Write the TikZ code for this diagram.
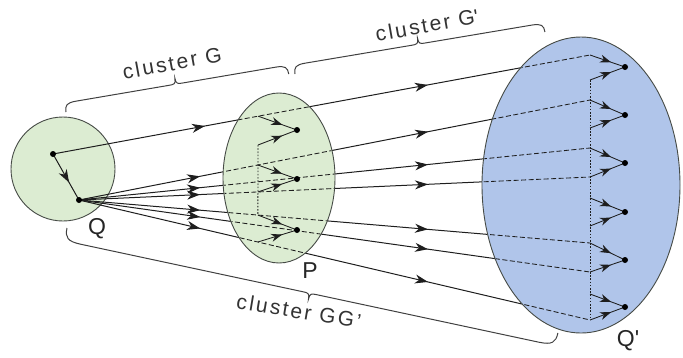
\documentclass[tikz,border=0pt]{standalone}
\usepackage{fontspec}
\setmainfont{Liberation Sans}
\newfontfamily\clfont[LetterSpace=11]{Liberation Sans}
\usetikzlibrary{arrows.meta,decorations.markings,shapes.geometric,calc}

\definecolor{qgreen}{RGB}{220,236,210}
\definecolor{qblue}{RGB}{176,197,234}
\definecolor{edgec}{RGB}{70,75,70}
\definecolor{linec}{RGB}{30,30,30}

\tikzset{
  bigtip/.tip={Stealth[length=13pt,width=9pt,inset=4pt]},
  smalltip/.tip={Stealth[length=11pt,width=8pt,inset=3.5pt]},
  conn/.style={draw=linec,line width=1pt},
  shortc/.style={draw=linec,line width=0.85pt},
  inner/.style={draw=linec,line width=0.85pt,dash pattern=on 5pt off 2.5pt},
  busline/.style={draw=linec,line width=0.8pt,dash pattern=on 1.6pt off 1.6pt},
  arrowat/.style={postaction={decorate,decoration={markings,mark=at position #1 with {\arrow{bigtip}}}}},
  sarrowat/.style={postaction={decorate,decoration={markings,mark=at position #1 with {\arrow{smalltip}}}}},
  blob/.style={ellipse,draw=edgec,line width=0.9pt,inner sep=0pt},
  dot/.style={circle,fill=black,inner sep=0pt,minimum size=6pt},
  lbl/.style={font=\fontsize{23}{23}\selectfont,text=black!85,inner sep=0pt},
  cltext/.style={font=\clfont\fontsize{21}{21}\selectfont,text=black!80,inner sep=0pt},
  bracel/.style={draw=black!75,line width=1pt}
}

\newcommand\clbrace[4]{%
  \begin{scope}[#1]
    \draw[bracel] (0,0) .. controls (0,{0.75*#3}) and ({0.25*#3},{#3}) .. ({1.3*#3},{#3})
      -- ({#2/2-7},{#3}) .. controls ({#2/2-2},{#3}) and ({#2/2},{#3}) .. ({#2/2},{#3+#4})
      .. controls ({#2/2},{#3}) and ({#2/2+2},{#3}) .. ({#2/2+7},{#3})
      -- ({#2-1.3*#3},{#3}) .. controls ({#2-0.25*#3},{#3}) and (#2,{0.75*#3}) .. (#2,0);
  \end{scope}}

\begin{document}
\begin{tikzpicture}[x=1pt,y=-1pt]
\useasboundingbox (0,0) rectangle (683,357);

% geometry
\coordinate (q1) at (53,154);
\coordinate (q2) at (79,200);
\foreach \n/\y in {1/130,2/179,3/230} \coordinate (p\n) at (297,\y);
\foreach \n/\y in {1/67,2/115,3/163,4/212,5/260,6/307} \coordinate (t\n) at (625,\y);
\coordinate (e1) at (590,55);
\coordinate (e2) at (590,100);
\coordinate (e3) at (590,148);
\coordinate (e4) at (590,177);
\coordinate (e5) at (590,243);
\coordinate (e6) at (590,272);
\coordinate (e7) at (590,320);
\coordinate (u1) at (590,80);
\coordinate (u2) at (590,128);
\coordinate (u4a) at (590,198);
\coordinate (u4b) at (590,226);
\coordinate (u6) at (590,294);
\coordinate (ubot) at (590,320);
\coordinate (v1) at (258,145);

% Q
\node[blob,circle,fill=qgreen,minimum size=104pt] (Q) at (63,169) {};

% long connectors (solid)
\draw[conn,arrowat=0.283,arrowat=0.698] (q1) -- (e1);
\foreach \k in {2,...,7} \draw[conn,arrowat=0.237,arrowat=0.683] (q2) -- (e\k);

% P and Q'
\node[blob,fill=qgreen,minimum width=112pt,minimum height=170pt] (P) at (279,178) {};
\node[blob,fill=qblue,minimum width=198pt,minimum height=296pt] (Qp) at (581,185) {};

% dashed parts inside P and Q'
\begin{scope}
  \clip (279,178) ellipse [x radius=55.3pt, y radius=84.3pt];
  \draw[inner] (q1) -- (e1);
  \foreach \k in {2,...,7} \draw[inner] (q2) -- (e\k);
\end{scope}
\begin{scope}
  \clip (581,185) ellipse [x radius=98.3pt, y radius=147.3pt];
  \draw[inner] (q1) -- (e1);
  \foreach \k in {2,...,7} \draw[inner] (q2) -- (e\k);
\end{scope}

% tails on the long connectors inside P
\path (q1) -- (e1) coordinate[pos=0.382] (a1);
\path (q2) -- (e2) coordinate[pos=0.350] (a2);
\path (q2) -- (e4) coordinate[pos=0.350] (a3);
\path (q2) -- (e5) coordinate[pos=0.350] (a4);
\path (q2) -- (e7) coordinate[pos=0.350] (a5);

% P bus and arrows
\draw[busline] (v1) -- (a4);
\draw[shortc,sarrowat=0.62] (a1) -- (p1);
\draw[shortc,sarrowat=0.62] (v1) -- (p1);
\draw[shortc,sarrowat=0.62] (a2) -- (p2);
\draw[shortc,sarrowat=0.62] (a3) -- (p2);
\draw[shortc,sarrowat=0.62] (a4) -- (p3);
\draw[shortc,sarrowat=0.62] (a5) -- (p3);

% Q' bus and arrows
\draw[busline] (u1) -- (ubot);
\draw[shortc,sarrowat=0.6] (e1) -- (t1);
\draw[shortc,sarrowat=0.6] (u1) -- (t1);
\draw[shortc,sarrowat=0.6] (e2) -- (t2);
\draw[shortc,sarrowat=0.6] (u2) -- (t2);
\draw[shortc,sarrowat=0.6] (e3) -- (t3);
\draw[shortc,sarrowat=0.6] (e4) -- (t3);
\draw[shortc,sarrowat=0.6] (u4a) -- (t4);
\draw[shortc,sarrowat=0.6] (u4b) -- (t4);
\draw[shortc,sarrowat=0.6] (e5) -- (t5);
\draw[shortc,sarrowat=0.6] (e6) -- (t5);
\draw[shortc,sarrowat=0.6] (u6) -- (t6);
\draw[shortc,sarrowat=0.6] (e7) -- (t6);

% Q internal arrow
\draw[conn,arrowat=0.62] (q1) -- (q2);

% dots
\node[dot] (Dq1) at (q1) {};
\node[dot] (Dq2) at (q2) {};
\foreach \n in {1,2,3} \node[dot] (Dp\n) at (p\n) {};
\foreach \n in {1,...,6} \node[dot] (Dt\n) at (t\n) {};

% labels
\node[lbl] (lQ) at (97,229) {Q};
\node[lbl] (lP) at (310,271) {P};
\node[lbl] (lQp) at (628,341) {Q\textquotesingle};

% braces
\clbrace{shift={(66,112)},rotate=9.67,x=1pt,y=1pt}{226}{9}{6}
\clbrace{shift={(295,74)},rotate=9.54,x=1pt,y=1pt}{253.5}{9}{6}
\clbrace{shift={(67,228)},rotate=-12.07,x=1pt,y=-1pt}{502}{13}{6}

\node[cltext,rotate=10.5] (cG) at (172,63) {cluster G};
\node[cltext,rotate=10] (cGp) at (427,25) {cluster G\textquotesingle};
\node[cltext,rotate=-9.5] (cGG) at (299,311) {cluster GG’};
\end{tikzpicture}
\end{document}
